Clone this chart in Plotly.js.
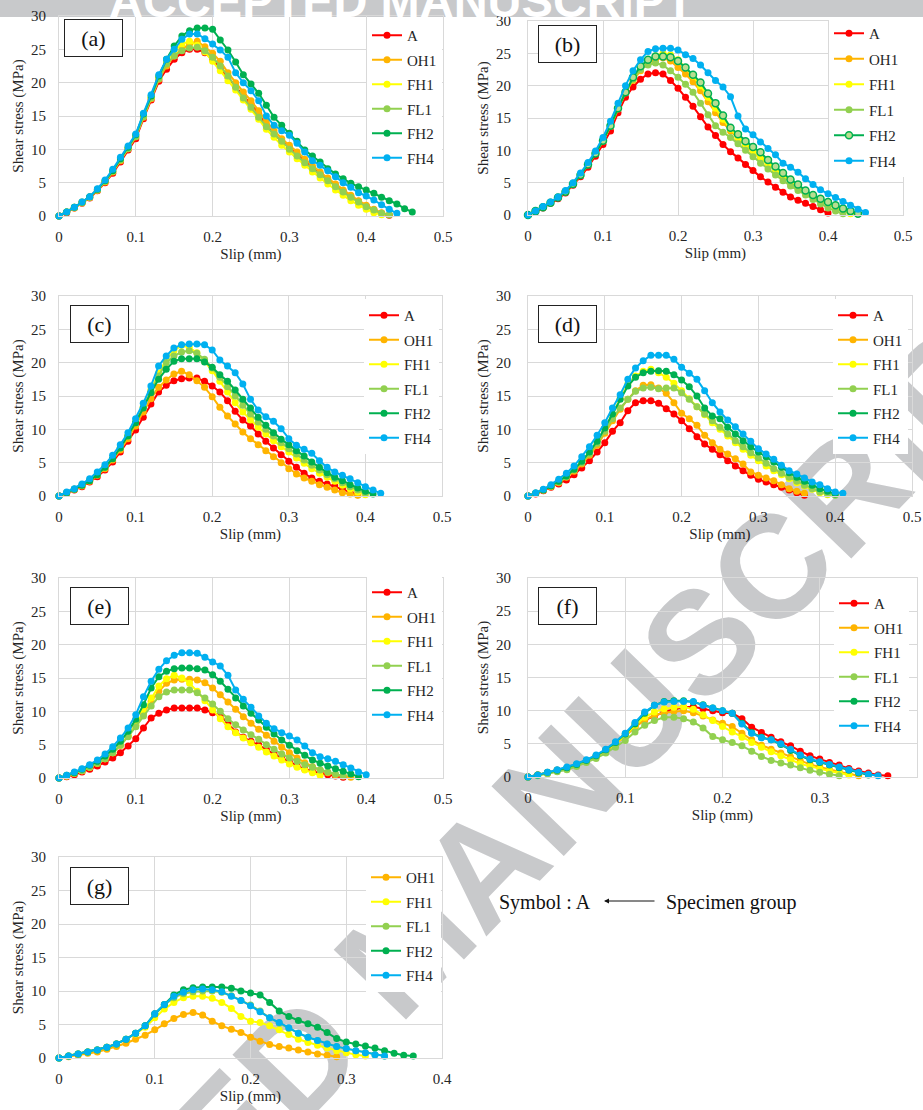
<!DOCTYPE html>
<html>
<head>
<meta charset="utf-8">
<script src="https://cdn.plot.ly/plotly-3.0.1.min.js"></script>
<style>html,body{margin:0;padding:0;background:#fff;}#chart{width:923px;height:1110px;}</style>
</head>
<body>
<div id="chart"></div>
<script>
// Slip grid (mm)
const slip = [0,0.01,0.02,0.03,0.04,0.05,0.06,0.07,0.08,0.09,0.10,0.11,0.12,0.13,0.14,0.15,0.16,0.17,0.18,0.19,0.20,0.21,0.22,0.23,0.24,0.25,0.26,0.27,0.28,0.29,0.30,0.31,0.32,0.33,0.34,0.35,0.36,0.37,0.38,0.39,0.40,0.41,0.42,0.43,0.44,0.45,0.46];
const seriesNames = ['A','OH1','FH1','FL1','FH2','FH4'];
const seriesColors = ['#ff0000','#ffb400','#ffff00','#92d050','#00b050','#00b0f0'];

// (a)
const a_A   = [0,0.5,1.2,1.9,2.7,3.8,5.0,6.4,8.1,9.9,11.6,14.6,17.4,20.2,22.0,23.5,24.5,25.0,25.0,24.5,23.5,22.2,20.8,19.4,18.0,16.8,15.3,13.6,12.3,11.2,10.2,9.1,8.1,7.2,6.3,5.4,4.5,3.7,2.9,2.2,1.5,0.9,0.4,0.1];
const a_OH1 = [0,0.6,1.2,2.0,2.8,3.9,5.1,6.6,8.3,10.1,11.9,14.8,17.6,20.5,22.5,24.0,25.0,25.8,26.2,25.4,24.4,23.2,21.5,20.0,18.6,17.3,15.8,14.1,12.8,11.6,10.6,9.6,8.5,7.5,6.6,5.7,4.8,3.9,3.1,2.3,1.6,1.0,0.5,0.2];
const a_FH1 = [0,0.6,1.3,2.0,2.8,3.9,5.2,6.7,8.5,10.2,12.0,15.0,17.8,20.8,23.0,24.8,25.8,26.2,25.6,24.6,23.2,21.8,20.3,18.9,17.4,16.0,14.5,13.0,11.8,10.6,9.6,8.6,7.6,6.6,5.7,4.8,3.9,3.1,2.3,1.6,1.0,0.5,0.2];
const a_FL1 = [0,0.6,1.3,2.0,2.8,3.9,5.2,6.7,8.4,10.1,11.9,14.9,17.7,20.6,22.8,24.0,24.8,25.2,25.3,24.8,23.8,22.5,21.0,19.3,17.7,16.3,14.8,13.4,12.3,11.2,10.0,9.0,8.0,7.1,6.2,5.3,4.4,3.6,2.8,2.1,1.4,0.9,0.4,0.2];
const a_FH2 = [0,0.6,1.3,2.1,2.9,4.0,5.3,6.8,8.6,10.3,12.2,15.3,18.0,21.0,23.5,25.5,27.0,27.8,28.2,28.2,28.0,26.4,24.9,23.1,21.2,19.8,18.4,16.6,14.8,13.6,12.4,11.2,9.9,9.0,8.1,7.1,6.3,5.6,4.9,4.4,3.9,3.4,2.8,2.3,1.8,1.1,0.6];
const a_FH4 = [0,0.6,1.3,2.1,2.9,4.1,5.4,7.0,8.8,10.5,12.3,15.4,18.2,21.2,23.5,25.0,26.5,27.3,27.3,26.6,25.8,24.9,23.8,21.5,20.0,18.8,17.3,15.0,13.6,12.8,12.1,10.9,9.6,8.3,7.6,6.8,5.9,5.0,4.3,3.5,3.0,2.4,1.7,1.0,0.4];
// (b)
const b_A   = [0,0.5,1.1,1.8,2.5,3.4,4.6,5.9,7.4,9.1,10.9,13.0,15.8,18.2,19.8,21.0,21.8,22.0,21.8,20.8,19.6,18.2,16.8,15.2,13.6,12.3,10.9,9.8,8.8,7.8,6.9,5.9,5.1,4.3,3.5,2.8,2.3,1.8,1.3,0.8,0.3];
const b_OH1 = [0,0.6,1.2,1.9,2.7,3.6,4.8,6.2,7.8,9.5,11.4,13.7,16.4,18.9,20.8,22.3,23.5,24.0,24.3,23.8,22.8,21.8,20.6,19.2,17.5,15.8,14.3,13.0,11.8,10.7,9.7,8.8,7.9,7.0,6.1,5.2,4.3,3.6,2.9,2.3,1.8,1.2,0.7,0.3];
const b_FH1 = [0,0.6,1.2,1.9,2.7,3.6,4.8,6.2,7.8,9.5,11.5,13.8,16.5,19.0,21.0,22.6,23.8,24.6,25.0,24.8,24.0,22.8,21.5,20.0,18.2,16.5,14.8,13.3,12.0,10.8,9.7,8.7,7.8,6.9,6.0,5.1,4.2,3.5,2.8,2.2,1.6,1.1,0.6,0.2];
const b_FL1 = [0,0.6,1.2,1.9,2.7,3.6,4.8,6.2,7.8,9.5,11.5,13.8,16.5,19.0,21.0,22.5,23.2,23.5,23.2,22.3,21.3,20.2,19.0,17.3,15.5,13.8,12.8,12.0,11.0,10.0,9.0,8.0,7.1,6.2,5.3,4.5,3.8,3.1,2.4,1.7,1.1,0.6,0.2];
const b_FH2 = [0,0.6,1.2,1.9,2.7,3.6,4.8,6.2,7.8,9.5,11.5,13.8,16.5,19.0,21.3,23.0,24.0,24.5,24.5,24.4,23.8,22.8,21.7,20.5,18.8,17.3,15.4,13.5,12.5,11.4,10.5,9.7,8.5,7.5,6.5,5.5,4.7,3.8,3.1,2.5,2.0,1.5,1.0,0.6,0.2];
const b_FH4 = [0,0.6,1.3,2.0,2.8,3.8,5.0,6.5,8.1,9.9,12.0,14.5,17.3,20.0,22.3,24.0,25.3,25.7,25.8,25.8,25.5,24.8,24.2,23.2,22.0,20.8,19.8,18.3,15.3,13.3,12.4,11.3,10.3,9.3,8.0,7.4,6.6,5.6,4.7,3.9,3.3,2.7,2.1,1.5,0.9,0.4];
// (c)
const c_A   = [0,0.4,0.9,1.4,2.1,2.9,3.9,5.1,6.6,8.2,9.9,11.8,13.8,15.6,16.6,17.3,17.6,17.7,17.7,17.2,16.5,15.6,14.3,12.7,11.4,10.5,9.3,8.2,7.2,6.2,5.2,4.3,3.4,2.7,2.2,1.8,1.5,1.1,0.6,0.2];
const c_OH1 = [0,0.5,1.0,1.5,2.2,3.1,4.1,5.4,6.9,8.6,10.5,12.6,14.6,16.3,17.4,18.3,18.7,18.2,17.3,16.3,14.9,13.3,12.0,10.8,9.6,8.6,7.7,6.8,5.9,5.0,4.1,3.3,2.7,2.2,1.7,1.3,0.9,0.5,0.3,0.1];
const c_FH1 = [0,0.5,1.0,1.6,2.3,3.2,4.3,5.6,7.2,9.0,11.1,13.4,15.9,18.4,20.5,21.8,22.6,22.3,21.5,20.2,18.8,17.2,15.6,14.0,12.6,11.4,10.3,9.3,8.3,7.4,6.6,5.7,4.9,4.1,3.4,2.8,2.2,1.6,1.1,0.6,0.2];
const c_FL1 = [0,0.5,1.0,1.6,2.3,3.2,4.3,5.6,7.2,9.0,11.0,13.3,15.7,18.0,20.0,21.0,21.6,21.8,21.4,20.5,19.2,17.8,16.4,15.0,13.6,12.3,11.1,10.0,9.0,8.0,7.1,6.3,5.4,4.6,3.9,3.2,2.6,2.0,1.4,0.9,0.4];
const c_FH2 = [0,0.5,1.0,1.6,2.3,3.2,4.3,5.6,7.2,9.0,11.0,13.2,15.5,17.5,19.0,20.2,20.6,20.6,20.6,20.1,19.3,18.2,17.2,15.9,14.5,13.2,11.8,10.6,9.5,8.5,7.7,6.8,6.0,5.1,4.3,3.5,2.8,2.3,1.7,1.2,0.7,0.3];
const c_FH4 = [0,0.6,1.1,1.8,2.6,3.6,4.7,6.1,7.7,9.5,11.6,13.9,16.5,19.5,21.0,22.2,22.7,22.8,22.8,22.7,21.9,20.4,19.5,18.5,16.8,14.5,12.9,11.9,11.2,10.1,8.6,7.6,7.0,6.4,5.3,4.3,3.6,3.1,2.6,2.0,1.4,0.9,0.4];
// (d)
const d_A   = [0,0.3,0.8,1.3,1.8,2.4,3.2,4.2,5.3,6.6,8.0,9.7,11.0,12.8,14.0,14.3,14.3,13.9,13.1,12.3,11.3,10.1,8.9,7.8,7.0,6.2,5.3,4.5,3.8,3.1,2.5,2.1,1.7,1.3,0.9,0.5,0.1];
const d_OH1 = [0,0.4,0.9,1.4,2.0,2.8,3.7,4.8,6.1,7.6,9.4,11.3,13.0,14.5,15.8,16.6,16.7,16.2,15.4,14.0,12.4,11.6,10.6,9.1,8.0,7.0,6.3,5.6,4.8,3.6,3.1,2.7,2.3,1.7,1.1,0.7,0.4];
const d_FH1 = [0,0.4,0.9,1.5,2.2,3.0,4.0,5.2,6.6,8.2,10.1,12.3,14.6,16.8,18.0,18.7,19.0,18.5,17.8,16.9,15.8,14.6,13.4,12.2,11.0,10.0,9.0,8.0,7.0,6.1,5.3,4.5,3.8,3.2,2.6,2.0,1.5,1.0,0.5,0.2];
const d_FL1 = [0,0.4,0.9,1.5,2.1,2.9,3.9,5.0,6.3,7.9,9.7,11.6,13.2,14.5,15.7,16.2,16.3,16.1,16.2,16.2,15.5,14.5,13.4,12.3,11.3,10.3,9.3,8.3,7.4,6.5,5.7,4.9,4.1,3.4,2.8,2.2,1.6,1.1,0.6,0.3,0.1];
const d_FH2 = [0,0.4,0.9,1.5,2.2,3.0,4.0,5.2,6.6,8.2,10.2,12.3,14.5,16.5,17.8,18.5,18.7,18.8,18.7,18.2,17.4,16.4,15.0,13.2,12.0,11.6,10.3,9.3,8.3,7.4,6.6,5.9,5.1,4.3,3.5,2.8,2.2,1.6,1.1,0.7,0.3];
const d_FH4 = [0,0.5,1.0,1.7,2.5,3.4,4.5,5.9,7.4,9.1,11.0,13.2,15.2,17.5,19.2,20.3,21.1,21.1,21.1,20.5,19.3,18.4,17.5,15.8,14.0,12.6,11.4,10.4,9.3,8.2,7.1,6.3,5.5,4.6,3.8,3.3,2.7,2.1,1.7,1.1,0.6,0.4];
// (e)
const e_A   = [0,0.2,0.5,0.9,1.3,1.8,2.4,3.0,3.8,4.8,5.9,7.5,9.0,9.7,10.2,10.5,10.5,10.5,10.5,10.2,9.8,9.4,8.2,6.9,6.1,5.5,5.0,4.3,3.6,3.0,2.4,1.8,1.3,1.0,0.7,0.5,0.3,0.1];
const e_OH1 = [0,0.3,0.7,1.1,1.6,2.2,2.9,3.8,4.9,6.3,7.9,9.7,11.5,13.0,14.2,14.7,14.8,14.8,14.7,14.3,13.5,12.5,11.4,10.3,9.2,8.2,7.3,6.4,5.5,4.6,3.8,3.0,2.3,1.7,1.2,0.8,0.5,0.3,0.1];
const e_FH1 = [0,0.3,0.7,1.1,1.6,2.2,2.9,3.8,4.9,6.3,8.0,10.0,12.0,13.8,14.9,15.4,15.0,14.2,13.0,11.6,10.2,8.9,7.7,6.8,6.0,5.3,4.6,3.9,3.3,2.7,2.1,1.6,1.2,0.8,0.4];
const e_FL1 = [0,0.3,0.7,1.1,1.6,2.2,2.9,3.8,4.9,6.2,7.7,9.3,10.8,12.2,12.9,13.2,13.2,13.2,12.8,12.0,11.1,10.0,8.9,8.0,7.2,6.5,5.8,5.0,4.3,3.6,3.0,2.5,2.0,1.6,1.2,0.9,0.6,0.3];
const e_FH2 = [0,0.4,0.8,1.3,1.9,2.5,3.3,4.3,5.5,7.0,8.8,11.0,13.5,15.2,16.0,16.4,16.5,16.5,16.4,16.2,15.5,14.5,13.3,12.0,10.8,9.7,8.7,7.6,6.6,5.7,4.9,4.1,3.4,2.7,2.2,1.8,1.4,1.0,0.6,0.2];
const e_FH4 = [0,0.4,0.9,1.4,2.0,2.7,3.6,4.7,6.0,7.5,9.5,12.2,14.5,16.3,17.6,18.4,18.8,18.8,18.7,18.1,17.4,16.8,15.4,13.2,11.8,10.6,9.3,8.2,7.4,6.8,6.3,5.7,4.8,3.8,3.2,2.9,2.5,2.0,1.5,0.9,0.5];
// (f)
const f_A   = [0,0.3,0.6,1.0,1.3,1.8,2.4,3.1,4.0,5.0,6.2,7.6,8.6,9.2,9.8,10.2,10.5,10.6,10.3,10.0,9.7,9.6,8.8,7.5,6.7,6.0,5.3,4.7,3.9,3.2,2.7,2.2,1.8,1.3,0.9,0.6,0.3,0.2];
const f_OH1 = [0,0.3,0.6,1.0,1.3,1.8,2.4,3.1,4.0,5.0,6.2,7.5,8.6,9.3,9.7,9.9,10.0,9.7,9.2,8.6,8.1,7.6,6.6,5.6,4.8,4.2,3.6,3.0,2.4,1.9,1.5,1.1,0.8,0.5,0.2];
const f_FH1 = [0,0.3,0.6,1.0,1.3,1.8,2.4,3.1,4.0,5.0,6.3,7.8,9.0,9.8,10.3,10.5,10.6,10.2,9.4,8.5,7.6,6.8,6.0,5.2,4.5,3.8,3.2,2.6,2.0,1.6,1.2,0.9,0.6,0.3];
const f_FL1 = [0,0.2,0.5,0.8,1.1,1.6,2.2,2.8,3.6,4.5,5.5,6.8,7.8,8.5,9.0,9.0,8.8,8.3,7.4,6.1,5.6,5.2,4.7,3.9,3.1,2.5,2.1,1.8,1.4,1.0,0.7,0.4,0.2];
const f_FH2 = [0,0.3,0.7,1.0,1.4,1.9,2.5,3.2,4.1,5.2,6.5,8.0,9.6,10.8,11.4,11.5,11.5,11.3,10.9,10.4,10.0,9.6,8.1,6.7,6.0,5.6,4.9,4.0,3.2,2.6,2.2,1.8,1.4,1.0,0.6,0.3];
const f_FH4 = [0,0.3,0.7,1.1,1.5,2.0,2.6,3.3,4.2,5.3,6.6,8.2,9.8,10.8,11.3,11.4,11.4,11.4,10.8,10.4,10.0,9.6,8.0,6.6,5.9,5.6,5.0,4.2,3.3,2.7,2.3,1.9,1.5,1.1,0.7,0.4,0.2];
// (g)
const g_OH1 = [0,0.2,0.4,0.7,0.9,1.3,1.7,2.2,2.8,3.4,4.2,5.1,5.9,6.5,6.8,6.4,5.5,4.8,4.3,3.8,3.1,2.5,2.0,1.7,1.5,1.2,0.9,0.6,0.4,0.2];
const g_FH1 = [0,0.3,0.6,0.9,1.2,1.6,2.1,2.8,3.6,4.6,6.0,7.3,8.3,9.0,9.2,9.2,8.9,8.3,7.4,6.2,5.5,5.3,4.8,4.2,3.5,2.8,2.3,1.9,1.5,1.1,0.8,0.5,0.3];
const g_FL1 = [0,0.3,0.6,0.9,1.2,1.6,2.1,2.8,3.7,4.8,6.5,7.9,9.0,9.6,9.9,10.0,10.0,9.8,9.3,8.6,7.9,7.0,6.0,5.2,4.4,3.7,3.1,2.6,2.1,1.7,1.4,1.1,0.8,0.5,0.3];
const g_FH2 = [0,0.3,0.6,0.9,1.2,1.6,2.1,2.8,3.7,4.8,6.6,8.0,9.4,10.2,10.5,10.6,10.6,10.6,10.4,10.0,9.7,9.4,8.3,7.0,6.2,5.6,5.1,4.6,3.8,2.9,2.4,2.1,1.8,1.5,1.1,0.7,0.4,0.3];
const g_FH4 = [0,0.3,0.6,0.9,1.2,1.6,2.1,2.8,3.7,4.8,6.6,8.0,9.2,9.8,10.2,10.3,10.2,9.9,9.2,8.6,7.8,6.9,6.0,5.3,4.5,3.7,3.1,2.6,2.1,1.7,1.4,1.1,0.8,0.5,0.3];

const panelLabels = ['(a)','(b)','(c)','(d)','(e)','(f)','(g)'];
const panelSeries = [
  {A:a_A, OH1:a_OH1, FH1:a_FH1, FL1:a_FL1, FH2:a_FH2, FH4:a_FH4},
  {A:b_A, OH1:b_OH1, FH1:b_FH1, FL1:b_FL1, FH2:b_FH2, FH4:b_FH4},
  {A:c_A, OH1:c_OH1, FH1:c_FH1, FL1:c_FL1, FH2:c_FH2, FH4:c_FH4},
  {A:d_A, OH1:d_OH1, FH1:d_FH1, FL1:d_FL1, FH2:d_FH2, FH4:d_FH4},
  {A:e_A, OH1:e_OH1, FH1:e_FH1, FL1:e_FL1, FH2:e_FH2, FH4:e_FH4},
  {A:f_A, OH1:f_OH1, FH1:f_FH1, FL1:f_FL1, FH2:f_FH2, FH4:f_FH4},
  {OH1:g_OH1, FH1:g_FH1, FL1:g_FL1, FH2:g_FH2, FH4:g_FH4}
];
const xMax = [0.5,0.5,0.5,0.5,0.5,0.4,0.4];

// Layout geometry (pixels)
const W = 923, H = 1110;
const geo = [
  {box:[59,443,16,216],  leg:[367,19],  gap:2, lab:[93.5,38]},
  {box:[528,903,21,215], leg:[829,17],  gap:3, lab:[567,43.5]},
  {box:[59,442,296,496], leg:[364,299], gap:2, lab:[99,324]},
  {box:[528,912,296,496],leg:[833,299], gap:2, lab:[567,324]},
  {box:[59,443,578,778], leg:[367,576], gap:2, lab:[99,606]},
  {box:[528,917,578,777],leg:[834,587], gap:2, lab:[567,606]},
  {box:[59,442,857,1058],leg:[366,861], gap:2, lab:[99,886]}
];
const px = v => v / W;
const py = v => 1 - v / H;
const SERIF = 'Liberation Serif, Times New Roman, serif';
const TXT = '#262626';

const traces = [];
const layout = {
  width: W, height: H, autosize: false,
  margin: {l:0, r:0, t:0, b:0},
  paper_bgcolor: '#ffffff', plot_bgcolor: 'rgba(0,0,0,0)',
  showlegend: true,
  font: {family: SERIF, size: 15, color: TXT},
  annotations: [], shapes: []
};

geo.forEach((g, i) => {
  const s = i === 0 ? '' : String(i + 1);
  const [l, r, t, b] = g.box;
  layout['xaxis' + s] = {
    domain: [px(l), px(r)], anchor: 'y' + s, range: [0, xMax[i]], dtick: 0.1,
    showgrid: true, gridcolor: '#d9d9d9', gridwidth: 1, zeroline: false,
    showline: true, linecolor: '#d9d9d9', linewidth: 1, mirror: true,
    ticks: 'outside', ticklen: 7, tickcolor: 'rgba(0,0,0,0)',
    tickfont: {family: SERIF, size: 15, color: TXT},
    title: {text: 'Slip (mm)', font: {family: SERIF, size: 15, color: TXT}, standoff: 4},
    fixedrange: true
  };
  layout['yaxis' + s] = {
    domain: [py(b), py(t)], anchor: 'x' + s, range: [0, 30], dtick: 5,
    showgrid: true, gridcolor: '#d9d9d9', gridwidth: 1, zeroline: false,
    showline: true, linecolor: '#d9d9d9', linewidth: 1, mirror: true,
    ticks: 'outside', ticklen: (i % 2 === 0 ? 9 : 13), tickcolor: 'rgba(0,0,0,0)',
    tickfont: {family: SERIF, size: 15, color: TXT},
    title: {text: 'Shear stress (MPa)', font: {family: SERIF, size: 15, color: TXT}, standoff: 3},
    fixedrange: true
  };
  const legKey = 'legend' + s;
  layout[legKey] = {
    x: px(g.leg[0]), y: py(g.leg[1]), xanchor: 'left', yanchor: 'top',
    bgcolor: '#ffffff', borderwidth: 0, itemwidth: 30,
    traceorder: 'grouped', tracegroupgap: g.gap,
    font: {family: SERIF, size: 15, color: TXT}
  };
  seriesNames.forEach((name, k) => {
    const y = panelSeries[i][name];
    if (!y) return;
    const col = seriesColors[k];
    let marker = {color: col, size: 7};
    if (i === 1 && name === 'FH2') marker = {color: '#b8de90', size: 7, line: {color: '#00b050', width: 1.5}};
    traces.push({
      type: 'scatter', mode: 'lines+markers',
      xaxis: 'x' + s, yaxis: 'y' + s,
      x: slip.slice(0, y.length), y: y,
      name: name, legend: legKey, legendgroup: 'p' + i + name,
      line: {color: col, width: 2}, marker: marker,
      cliponaxis: false, hoverinfo: 'x+y+name'
    });
  });
  layout.annotations.push({
    xref: 'paper', yref: 'paper', x: px(g.lab[0]), y: py(g.lab[1]),
    xanchor: 'center', yanchor: 'middle', text: panelLabels[i], showarrow: false,
    font: {family: SERIF, size: 22, color: '#111'},
    bordercolor: '#222', borderwidth: 1, borderpad: 1, bgcolor: '#ffffff',
    width: 55, height: 34
  });
});

// Note "Symbol : A  <--  Specimen group"
layout.annotations.push({xref:'paper', yref:'paper', x: px(497), y: py(902), xanchor:'left', yanchor:'middle',
  text:'Symbol : A', showarrow:false, font:{family:SERIF, size:20, color:'#111'}});
layout.annotations.push({xref:'paper', yref:'paper', x: px(604), y: py(901), text:'', showarrow:true,
  axref:'pixel', ayref:'pixel', ax: 52, ay: 0, arrowhead: 2, arrowsize: 1, arrowwidth: 1, arrowcolor:'#111', standoff: 0});
layout.annotations.push({xref:'paper', yref:'paper', x: px(664), y: py(902), xanchor:'left', yanchor:'middle',
  text:'Specimen group', showarrow:false, font:{family:SERIF, size:20, color:'#111'}});

// Watermark
layout.shapes.push({type:'rect', xref:'paper', yref:'paper', layer:'below',
  x0: px(0), x1: px(W), y0: py(17), y1: py(0), fillcolor:'#c8c9cb', line:{width:0}});
layout.shapes.push({type:'rect', xref:'paper', yref:'paper', layer:'below',
  x0: px(388), x1: px(408), y0: py(945), y1: py(925), fillcolor:'rgba(0,0,0,0)', line:{width:0},
  label:{text:'<b>ACCEPTED MANUSCRIPT</b>', textposition:'middle center', textangle: -46,
    font:{family:'Liberation Sans, Arial, sans-serif', size:146, color:'#c8c9cb'}}});
layout.annotations.push({xref:'paper', yref:'paper', x: px(401), y: py(28), xanchor:'center', yanchor:'bottom',
  text:'<b>ACCEPTED MANUSCRIPT</b>', showarrow:false, borderpad:0,
  font:{family:'Liberation Sans, Arial, sans-serif', size:47, color:'#ffffff'}});

Plotly.newPlot('chart', traces, layout, {displayModeBar:false, staticPlot:true});
</script>
</body>
</html>
